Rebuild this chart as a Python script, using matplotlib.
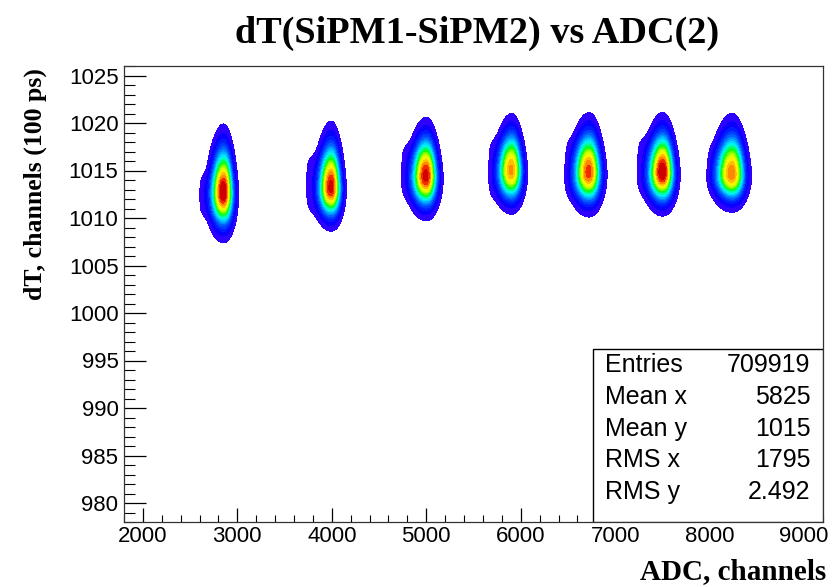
import numpy as np
import matplotlib.pyplot as plt
from matplotlib.colors import LinearSegmentedColormap
from matplotlib.patches import Rectangle
from matplotlib.ticker import MultipleLocator

# dT vs ADC(2) contour plot, blob extents

peak_x = [2855, 3995, 5000, 5905, 6725, 7505, 8240]
peak_y = [1012.7, 1013.2, 1014.4, 1015.0, 1014.8, 1014.8, 1014.6]
peak_amp = [1.0, 0.97, 0.97, 0.86, 0.92, 1.0, 0.88]
top_y = [1019.9, 1020.2, 1020.6, 1021.0, 1021.1, 1021.1, 1021.0]
bottom_y = [1007.4, 1008.6, 1009.7, 1010.4, 1010.1, 1010.2, 1010.6]
right_x = [3015, 4155, 5180, 6075, 6915, 7690, 8445]
shoulder_left_x = [2607, 3737, 4748, 5671, 6486, 7244, 8005]
shoulder_top_y = [1014.5, 1016.5, 1017.6, 1018.1, 1018.1, 1018.3, 1017.4]
shoulder_bottom_y = [1010.3, 1010.7, 1012.3, 1012.3, 1012.5, 1012.7, 1013.0]

stats_names = ["Entries", "Mean x", "Mean y", "RMS x", "RMS y"]
stats_values = ["709919", "5825", "1015", "1795", "2.492"]

edge_level = 0.015
shoulder_amp = 0.035
p = 2.4

xs = np.linspace(1800, 9200, 1400)
ys = np.linspace(978, 1026, 600)
X, Y = np.meshgrid(xs, ys)
Z = np.zeros_like(X)

for i in range(len(peak_x)):
    xc, yc, a = peak_x[i], peak_y[i], peak_amp[i]
    k = (2 * np.log(a / edge_level)) ** (1 / p)
    sx_r = (right_x[i] - xc) / k
    sx = np.where(X > xc, sx_r, 1.3 * sx_r)
    s_up = (top_y[i] - yc) / k
    s_dn = (yc - bottom_y[i]) / k
    sy = np.where(Y > yc, s_up, s_dn)
    frac = np.clip((Y - yc) / (top_y[i] - yc), 0, 1)
    sxe = sx * (1 - 0.2 * frac)
    r = np.sqrt(((X - xc) / sxe) ** 2 + ((Y - yc) / sy) ** 2)
    Z += a * np.exp(-0.5 * r ** p)
    # flat low shoulder on the left side
    sxc = (shoulder_left_x[i] + xc) / 2
    syc = (shoulder_top_y[i] + shoulder_bottom_y[i]) / 2
    e = np.log(shoulder_amp / edge_level) ** (1 / 4)
    wx = (xc - shoulder_left_x[i]) / 2 / e
    wy = (shoulder_top_y[i] - shoulder_bottom_y[i]) / 2 / e
    Z += shoulder_amp * np.exp(-((X - sxc) / wx) ** 4 - ((Y - syc) / wy) ** 4)

cmap = LinearSegmentedColormap.from_list("root", [
    (0.0, "#3a00ff"), (0.07, "#0000ff"), (0.2, "#0058ff"), (0.32, "#00b8ff"),
    (0.4, "#00f4ff"), (0.48, "#00ff90"), (0.56, "#00ff10"), (0.66, "#a8ff00"),
    (0.76, "#ffff00"), (0.87, "#ff9000"), (0.95, "#ee0000"), (1.0, "#b40000")])
zmax = Z.max()
levels = np.concatenate([[edge_level], np.linspace(zmax / 20, zmax, 20)])

fig = plt.figure(figsize=(8.33, 5.87), dpi=100)
ax = fig.add_axes([124/833, 65/587, 699/833, 456/587])
ax.contourf(X, Y, Z, levels=levels, cmap=cmap)
ax.set_xlim(1800, 9200)
ax.set_ylim(978, 1026)

ax.xaxis.set_major_locator(MultipleLocator(1000))
ax.xaxis.set_minor_locator(MultipleLocator(200))
ax.yaxis.set_major_locator(MultipleLocator(5))
ax.yaxis.set_minor_locator(MultipleLocator(1))
ax.tick_params(axis='x', which='major', direction='in', length=10, width=0.9, labelsize=16, pad=3)
ax.tick_params(axis='x', which='minor', direction='in', length=5, width=0.8)
ax.tick_params(axis='y', which='major', direction='in', length=15.5, width=0.9, labelsize=16, pad=4)
ax.tick_params(axis='y', which='minor', direction='in', length=8, width=0.8)
for lab in ax.get_xticklabels() + ax.get_yticklabels():
    lab.set_fontfamily("Liberation Sans")
for sp in ax.spines.values():
    sp.set_linewidth(0.9)
    sp.set_color("#333333")

# stats box
bx = 0.671
ax.add_patch(Rectangle((bx, 0.0), 1 - bx, 0.379, transform=ax.transAxes,
                       fill=True, facecolor="white", edgecolor="black", lw=1.0, zorder=5))
rows_y = [0.345, 0.275, 0.205, 0.135, 0.065]
for name, val, ty in zip(stats_names, stats_values, rows_y):
    ax.text(0.688, ty, name, transform=ax.transAxes, ha='left', va='center',
            fontsize=18, family="Liberation Sans", zorder=6)
    ax.text(0.982, ty, val, transform=ax.transAxes, ha='right', va='center',
            fontsize=18, family="Liberation Sans", zorder=6)

fig.text(477/833, 1 - 33/587, "dT(SiPM1-SiPM2) vs ADC(2)", ha='center', va='center',
         fontsize=27.5, fontweight='bold', family="Liberation Serif")
fig.text(35/833, 1 - 68/587, "dT, channels (100 ps)", ha='center', va='top', rotation=90,
         fontsize=18.5, fontweight='bold', family="Liberation Serif")
fig.text(826/833, 1 - 572/587, "ADC, channels", ha='right', va='center',
         fontsize=21, fontweight='bold', family="Liberation Serif")

fig.savefig("out.png", dpi=100)
